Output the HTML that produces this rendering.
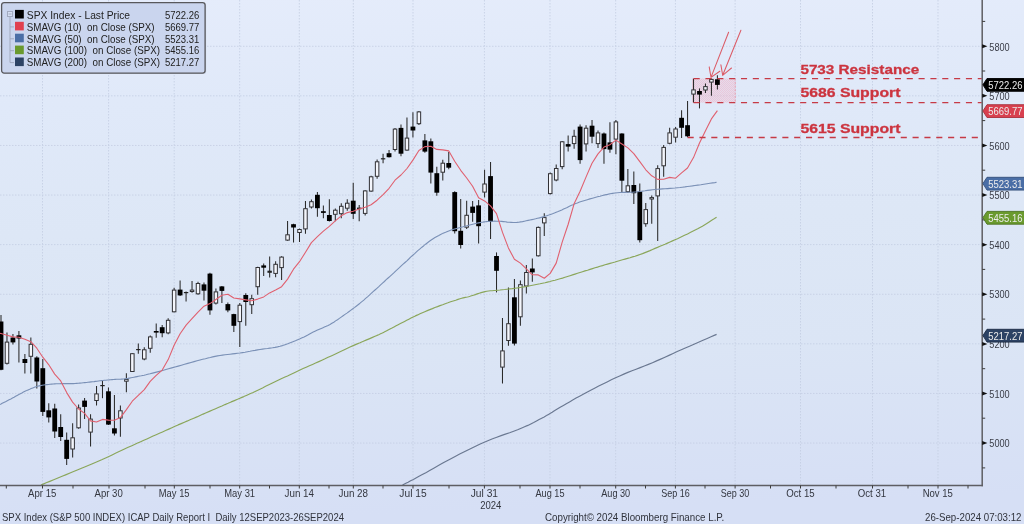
<!DOCTYPE html>
<html><head><meta charset="utf-8"><title>SPX Index</title>
<style>html,body{margin:0;padding:0;background:#dfe6f6;}body{width:1024px;height:524px;overflow:hidden;font-family:"Liberation Sans", sans-serif;}svg{display:block;position:absolute;left:0;top:0;filter:blur(0.38px);}text{font-family:"Liberation Sans", sans-serif;}</style></head><body>
<svg width="1024" height="524" viewBox="0 0 1024 524">
<defs><linearGradient id="bg" x1="0" y1="0" x2="0.06" y2="1"><stop offset="0" stop-color="#e5ecfb"/><stop offset="0.2" stop-color="#e0e9f9"/><stop offset="0.45" stop-color="#dde7f6"/><stop offset="0.7" stop-color="#dbe5f5"/><stop offset="1" stop-color="#d6dff5"/></linearGradient><pattern id="dots" width="2" height="2" patternUnits="userSpaceOnUse"><rect x="0" y="0" width="1" height="1" fill="#ee9db4"/><rect x="1" y="1" width="1" height="1" fill="#ee9db4"/></pattern></defs>
<rect x="0" y="0" width="1024" height="524" fill="url(#bg)"/>
<g stroke="#c3cde2" stroke-width="1" stroke-dasharray="1.5 1.5" fill="none" opacity="0.8">
<line x1="42.5" y1="0" x2="42.5" y2="485.5"/>
<line x1="108.6" y1="0" x2="108.6" y2="485.5"/>
<line x1="174.2" y1="0" x2="174.2" y2="485.5"/>
<line x1="239.7" y1="0" x2="239.7" y2="485.5"/>
<line x1="299.3" y1="0" x2="299.3" y2="485.5"/>
<line x1="353.3" y1="0" x2="353.3" y2="485.5"/>
<line x1="413.0" y1="0" x2="413.0" y2="485.5"/>
<line x1="484.4" y1="0" x2="484.4" y2="485.5"/>
<line x1="550.0" y1="0" x2="550.0" y2="485.5"/>
<line x1="615.7" y1="0" x2="615.7" y2="485.5"/>
<line x1="675.4" y1="0" x2="675.4" y2="485.5"/>
<line x1="735.1" y1="0" x2="735.1" y2="485.5"/>
<line x1="800.5" y1="0" x2="800.5" y2="485.5"/>
<line x1="872.5" y1="0" x2="872.5" y2="485.5"/>
<line x1="938.0" y1="0" x2="938.0" y2="485.5"/>
<line x1="0" y1="46.25" x2="982.2" y2="46.25"/>
<line x1="0" y1="95.85" x2="982.2" y2="95.85"/>
<line x1="0" y1="145.45" x2="982.2" y2="145.45"/>
<line x1="0" y1="195.05" x2="982.2" y2="195.05"/>
<line x1="0" y1="244.65" x2="982.2" y2="244.65"/>
<line x1="0" y1="294.25" x2="982.2" y2="294.25"/>
<line x1="0" y1="343.85" x2="982.2" y2="343.85"/>
<line x1="0" y1="393.45" x2="982.2" y2="393.45"/>
<line x1="0" y1="443.05" x2="982.2" y2="443.05"/>
</g>
<rect x="693.3" y="78.6" width="42" height="24" fill="#f3c3d2" opacity="0.36"/>
<rect x="693.3" y="78.6" width="42" height="24" fill="url(#dots)" opacity="0.3"/>
<line x1="693.3" y1="78.6" x2="693.3" y2="102.6" stroke="#e0707f" stroke-width="1.2"/>
<line x1="735.3" y1="78.6" x2="735.3" y2="102.6" stroke="#e9a3b4" stroke-width="1" stroke-dasharray="2 1.5"/>
<g stroke="#1c1c1c" stroke-width="1">
<line x1="1.00" y1="315.1" x2="1.00" y2="370.3" stroke="#2a2a2a" stroke-width="1.05"/>
<rect x="-1.40" y="321.5" width="4.8" height="48.3" fill="#000" stroke="none"/>
<line x1="6.97" y1="332.5" x2="6.97" y2="364.5" stroke="#2a2a2a" stroke-width="1.05"/>
<rect x="5.22" y="342.1" width="3.5" height="21.2" fill="#f4f6fc" stroke="#303034" stroke-width="1"/>
<line x1="12.94" y1="334.0" x2="12.94" y2="344.5" stroke="#2a2a2a" stroke-width="1.05"/>
<rect x="10.54" y="337.5" width="4.8" height="4.9" fill="#000" stroke="none"/>
<line x1="18.91" y1="331.0" x2="18.91" y2="362.5" stroke="#2a2a2a" stroke-width="1.05"/>
<rect x="16.51" y="335.3" width="4.8" height="3.2" fill="#000" stroke="none"/>
<line x1="24.88" y1="354.0" x2="24.88" y2="373.5" stroke="#2a2a2a" stroke-width="1.05"/>
<rect x="22.48" y="359.0" width="4.8" height="4.0" fill="#000" stroke="none"/>
<line x1="30.85" y1="337.5" x2="30.85" y2="373.5" stroke="#2a2a2a" stroke-width="1.05"/>
<rect x="29.10" y="344.3" width="3.5" height="12.0" fill="#f4f6fc" stroke="#303034" stroke-width="1"/>
<line x1="36.82" y1="356.3" x2="36.82" y2="388.5" stroke="#2a2a2a" stroke-width="1.05"/>
<rect x="34.42" y="357.5" width="4.8" height="24.0" fill="#000" stroke="none"/>
<line x1="42.79" y1="359.0" x2="42.79" y2="416.0" stroke="#2a2a2a" stroke-width="1.05"/>
<rect x="40.39" y="368.2" width="4.8" height="43.7" fill="#000" stroke="none"/>
<line x1="48.76" y1="403.3" x2="48.76" y2="422.5" stroke="#2a2a2a" stroke-width="1.05"/>
<rect x="46.36" y="410.3" width="4.8" height="7.1" fill="#000" stroke="none"/>
<line x1="54.73" y1="403.8" x2="54.73" y2="438.0" stroke="#2a2a2a" stroke-width="1.05"/>
<rect x="52.33" y="408.5" width="4.8" height="23.0" fill="#000" stroke="none"/>
<line x1="60.70" y1="414.3" x2="60.70" y2="441.0" stroke="#2a2a2a" stroke-width="1.05"/>
<rect x="58.30" y="427.0" width="4.8" height="10.0" fill="#000" stroke="none"/>
<line x1="66.67" y1="432.6" x2="66.67" y2="465.0" stroke="#2a2a2a" stroke-width="1.05"/>
<rect x="64.27" y="439.8" width="4.8" height="19.1" fill="#000" stroke="none"/>
<line x1="72.64" y1="423.2" x2="72.64" y2="457.6" stroke="#2a2a2a" stroke-width="1.05"/>
<rect x="70.89" y="437.8" width="3.5" height="11.2" fill="#f4f6fc" stroke="#303034" stroke-width="1"/>
<line x1="78.61" y1="404.4" x2="78.61" y2="428.8" stroke="#2a2a2a" stroke-width="1.05"/>
<rect x="76.86" y="408.0" width="3.5" height="19.8" fill="#f4f6fc" stroke="#303034" stroke-width="1"/>
<line x1="84.58" y1="398.0" x2="84.58" y2="419.0" stroke="#2a2a2a" stroke-width="1.05"/>
<rect x="82.18" y="400.6" width="4.8" height="6.3" fill="#000" stroke="none"/>
<line x1="90.55" y1="414.3" x2="90.55" y2="446.5" stroke="#2a2a2a" stroke-width="1.05"/>
<rect x="88.80" y="419.1" width="3.5" height="13.0" fill="#f4f6fc" stroke="#303034" stroke-width="1"/>
<line x1="96.52" y1="386.0" x2="96.52" y2="405.5" stroke="#2a2a2a" stroke-width="1.05"/>
<rect x="94.77" y="393.9" width="3.5" height="6.6" fill="#f4f6fc" stroke="#303034" stroke-width="1"/>
<line x1="102.49" y1="381.0" x2="102.49" y2="398.2" stroke="#2a2a2a" stroke-width="1.05"/>
<rect x="100.29" y="385.0" width="4.4" height="1.2" fill="#222" stroke="none"/>
<line x1="108.46" y1="387.6" x2="108.46" y2="425.0" stroke="#2a2a2a" stroke-width="1.05"/>
<rect x="106.06" y="391.3" width="4.8" height="33.3" fill="#000" stroke="none"/>
<line x1="114.43" y1="395.0" x2="114.43" y2="435.6" stroke="#2a2a2a" stroke-width="1.05"/>
<rect x="112.03" y="428.3" width="4.8" height="5.2" fill="#000" stroke="none"/>
<line x1="120.40" y1="405.6" x2="120.40" y2="436.8" stroke="#2a2a2a" stroke-width="1.05"/>
<rect x="118.65" y="410.8" width="3.5" height="7.2" fill="#f4f6fc" stroke="#303034" stroke-width="1"/>
<line x1="126.37" y1="373.2" x2="126.37" y2="392.2" stroke="#2a2a2a" stroke-width="1.05"/>
<rect x="124.62" y="379.4" width="3.5" height="1.8" fill="#f4f6fc" stroke="#303034" stroke-width="1"/>
<line x1="132.34" y1="353.2" x2="132.34" y2="372.0" stroke="#2a2a2a" stroke-width="1.05"/>
<rect x="130.59" y="353.7" width="3.5" height="17.8" fill="#f4f6fc" stroke="#303034" stroke-width="1"/>
<line x1="138.31" y1="343.4" x2="138.31" y2="353.8" stroke="#2a2a2a" stroke-width="1.05"/>
<rect x="136.11" y="349.0" width="4.4" height="1.2" fill="#222" stroke="none"/>
<line x1="144.28" y1="347.3" x2="144.28" y2="360.3" stroke="#2a2a2a" stroke-width="1.05"/>
<rect x="142.53" y="349.8" width="3.5" height="9.2" fill="#f4f6fc" stroke="#303034" stroke-width="1"/>
<line x1="150.25" y1="335.6" x2="150.25" y2="352.8" stroke="#2a2a2a" stroke-width="1.05"/>
<rect x="148.50" y="336.9" width="3.5" height="11.4" fill="#f4f6fc" stroke="#303034" stroke-width="1"/>
<line x1="156.22" y1="323.4" x2="156.22" y2="337.8" stroke="#2a2a2a" stroke-width="1.05"/>
<rect x="153.82" y="331.0" width="4.8" height="1.6" fill="#000" stroke="none"/>
<line x1="162.19" y1="324.9" x2="162.19" y2="337.2" stroke="#2a2a2a" stroke-width="1.05"/>
<rect x="159.79" y="327.2" width="4.8" height="6.0" fill="#000" stroke="none"/>
<line x1="168.16" y1="318.2" x2="168.16" y2="334.2" stroke="#2a2a2a" stroke-width="1.05"/>
<rect x="166.41" y="320.3" width="3.5" height="12.6" fill="#f4f6fc" stroke="#303034" stroke-width="1"/>
<line x1="174.13" y1="287.7" x2="174.13" y2="312.3" stroke="#2a2a2a" stroke-width="1.05"/>
<rect x="172.38" y="290.1" width="3.5" height="21.7" fill="#f4f6fc" stroke="#303034" stroke-width="1"/>
<line x1="180.10" y1="280.6" x2="180.10" y2="296.0" stroke="#2a2a2a" stroke-width="1.05"/>
<rect x="177.70" y="289.6" width="4.8" height="5.8" fill="#000" stroke="none"/>
<line x1="186.07" y1="291.5" x2="186.07" y2="301.5" stroke="#2a2a2a" stroke-width="1.05"/>
<rect x="183.87" y="292.0" width="4.4" height="1.2" fill="#222" stroke="none"/>
<line x1="192.04" y1="281.0" x2="192.04" y2="292.8" stroke="#2a2a2a" stroke-width="1.05"/>
<rect x="190.29" y="290.1" width="3.5" height="1.4" fill="#f4f6fc" stroke="#303034" stroke-width="1"/>
<line x1="198.01" y1="281.7" x2="198.01" y2="294.8" stroke="#2a2a2a" stroke-width="1.05"/>
<rect x="196.26" y="283.5" width="3.5" height="10.3" fill="#f4f6fc" stroke="#303034" stroke-width="1"/>
<line x1="203.98" y1="282.5" x2="203.98" y2="300.6" stroke="#2a2a2a" stroke-width="1.05"/>
<rect x="201.58" y="284.4" width="4.8" height="6.3" fill="#000" stroke="none"/>
<line x1="209.95" y1="272.8" x2="209.95" y2="314.8" stroke="#2a2a2a" stroke-width="1.05"/>
<rect x="207.55" y="273.6" width="4.8" height="36.8" fill="#000" stroke="none"/>
<line x1="215.92" y1="288.5" x2="215.92" y2="304.5" stroke="#2a2a2a" stroke-width="1.05"/>
<rect x="214.17" y="291.9" width="3.5" height="11.2" fill="#f4f6fc" stroke="#303034" stroke-width="1"/>
<line x1="221.89" y1="286.0" x2="221.89" y2="303.0" stroke="#2a2a2a" stroke-width="1.05"/>
<rect x="219.49" y="286.4" width="4.8" height="4.5" fill="#000" stroke="none"/>
<line x1="227.86" y1="302.6" x2="227.86" y2="312.2" stroke="#2a2a2a" stroke-width="1.05"/>
<rect x="225.46" y="304.1" width="4.8" height="6.3" fill="#000" stroke="none"/>
<line x1="233.83" y1="313.8" x2="233.83" y2="332.0" stroke="#2a2a2a" stroke-width="1.05"/>
<rect x="231.43" y="314.1" width="4.8" height="11.7" fill="#000" stroke="none"/>
<line x1="239.80" y1="302.9" x2="239.80" y2="346.9" stroke="#2a2a2a" stroke-width="1.05"/>
<rect x="238.05" y="305.2" width="3.5" height="16.4" fill="#f4f6fc" stroke="#303034" stroke-width="1"/>
<line x1="245.77" y1="293.2" x2="245.77" y2="325.8" stroke="#2a2a2a" stroke-width="1.05"/>
<rect x="243.37" y="295.0" width="4.8" height="7.0" fill="#000" stroke="none"/>
<line x1="251.74" y1="294.7" x2="251.74" y2="314.0" stroke="#2a2a2a" stroke-width="1.05"/>
<rect x="249.99" y="298.7" width="3.5" height="6.0" fill="#f4f6fc" stroke="#303034" stroke-width="1"/>
<line x1="257.71" y1="266.8" x2="257.71" y2="294.8" stroke="#2a2a2a" stroke-width="1.05"/>
<rect x="255.96" y="267.5" width="3.5" height="19.2" fill="#f4f6fc" stroke="#303034" stroke-width="1"/>
<line x1="263.68" y1="263.4" x2="263.68" y2="276.0" stroke="#2a2a2a" stroke-width="1.05"/>
<rect x="261.28" y="265.4" width="4.8" height="2.3" fill="#000" stroke="none"/>
<line x1="269.65" y1="256.6" x2="269.65" y2="277.6" stroke="#2a2a2a" stroke-width="1.05"/>
<rect x="267.45" y="270.7" width="4.4" height="2.1" fill="#222" stroke="none"/>
<line x1="275.62" y1="261.3" x2="275.62" y2="277.2" stroke="#2a2a2a" stroke-width="1.05"/>
<rect x="273.87" y="264.3" width="3.5" height="9.1" fill="#f4f6fc" stroke="#303034" stroke-width="1"/>
<line x1="281.59" y1="256.2" x2="281.59" y2="279.9" stroke="#2a2a2a" stroke-width="1.05"/>
<rect x="279.84" y="257.1" width="3.5" height="10.5" fill="#f4f6fc" stroke="#303034" stroke-width="1"/>
<line x1="287.56" y1="221.1" x2="287.56" y2="240.8" stroke="#2a2a2a" stroke-width="1.05"/>
<rect x="285.81" y="234.8" width="3.5" height="5.3" fill="#f4f6fc" stroke="#303034" stroke-width="1"/>
<line x1="293.53" y1="223.8" x2="293.53" y2="242.6" stroke="#2a2a2a" stroke-width="1.05"/>
<rect x="291.13" y="224.2" width="4.8" height="3.3" fill="#000" stroke="none"/>
<line x1="299.50" y1="228.6" x2="299.50" y2="242.0" stroke="#2a2a2a" stroke-width="1.05"/>
<rect x="297.75" y="229.5" width="3.5" height="3.0" fill="#f4f6fc" stroke="#303034" stroke-width="1"/>
<line x1="305.47" y1="201.0" x2="305.47" y2="233.7" stroke="#2a2a2a" stroke-width="1.05"/>
<rect x="303.72" y="208.7" width="3.5" height="20.2" fill="#f4f6fc" stroke="#303034" stroke-width="1"/>
<line x1="311.44" y1="199.5" x2="311.44" y2="208.6" stroke="#2a2a2a" stroke-width="1.05"/>
<rect x="309.69" y="201.7" width="3.5" height="5.3" fill="#f4f6fc" stroke="#303034" stroke-width="1"/>
<line x1="317.41" y1="192.0" x2="317.41" y2="216.7" stroke="#2a2a2a" stroke-width="1.05"/>
<rect x="315.01" y="194.8" width="4.8" height="13.4" fill="#000" stroke="none"/>
<line x1="323.38" y1="205.4" x2="323.38" y2="218.2" stroke="#2a2a2a" stroke-width="1.05"/>
<rect x="320.98" y="211.2" width="4.8" height="1.7" fill="#000" stroke="none"/>
<line x1="329.35" y1="199.3" x2="329.35" y2="221.4" stroke="#2a2a2a" stroke-width="1.05"/>
<rect x="326.95" y="215.0" width="4.8" height="6.0" fill="#000" stroke="none"/>
<line x1="335.32" y1="208.5" x2="335.32" y2="221.2" stroke="#2a2a2a" stroke-width="1.05"/>
<rect x="333.57" y="210.2" width="3.5" height="4.1" fill="#f4f6fc" stroke="#303034" stroke-width="1"/>
<line x1="341.29" y1="203.3" x2="341.29" y2="218.2" stroke="#2a2a2a" stroke-width="1.05"/>
<rect x="339.54" y="206.3" width="3.5" height="7.4" fill="#f4f6fc" stroke="#303034" stroke-width="1"/>
<line x1="347.26" y1="199.3" x2="347.26" y2="210.7" stroke="#2a2a2a" stroke-width="1.05"/>
<rect x="345.51" y="203.2" width="3.5" height="5.0" fill="#f4f6fc" stroke="#303034" stroke-width="1"/>
<line x1="353.23" y1="182.8" x2="353.23" y2="219.0" stroke="#2a2a2a" stroke-width="1.05"/>
<rect x="350.83" y="200.7" width="4.8" height="13.1" fill="#000" stroke="none"/>
<line x1="359.20" y1="205.0" x2="359.20" y2="221.3" stroke="#2a2a2a" stroke-width="1.05"/>
<rect x="357.00" y="207.6" width="4.4" height="1.6" fill="#222" stroke="none"/>
<line x1="365.17" y1="190.2" x2="365.17" y2="215.4" stroke="#2a2a2a" stroke-width="1.05"/>
<rect x="363.42" y="190.9" width="3.5" height="22.5" fill="#f4f6fc" stroke="#303034" stroke-width="1"/>
<line x1="371.14" y1="175.8" x2="371.14" y2="191.8" stroke="#2a2a2a" stroke-width="1.05"/>
<rect x="369.39" y="176.8" width="3.5" height="14.3" fill="#f4f6fc" stroke="#303034" stroke-width="1"/>
<line x1="377.11" y1="159.6" x2="377.11" y2="178.8" stroke="#2a2a2a" stroke-width="1.05"/>
<rect x="375.36" y="161.8" width="3.5" height="14.5" fill="#f4f6fc" stroke="#303034" stroke-width="1"/>
<line x1="383.08" y1="153.7" x2="383.08" y2="163.3" stroke="#2a2a2a" stroke-width="1.05"/>
<rect x="380.88" y="158.2" width="4.4" height="1.2" fill="#222" stroke="none"/>
<line x1="389.05" y1="150.0" x2="389.05" y2="157.6" stroke="#2a2a2a" stroke-width="1.05"/>
<rect x="386.65" y="153.2" width="4.8" height="4.0" fill="#000" stroke="none"/>
<line x1="395.02" y1="128.0" x2="395.02" y2="151.4" stroke="#2a2a2a" stroke-width="1.05"/>
<rect x="393.27" y="129.1" width="3.5" height="20.4" fill="#f4f6fc" stroke="#303034" stroke-width="1"/>
<line x1="400.99" y1="124.4" x2="400.99" y2="156.3" stroke="#2a2a2a" stroke-width="1.05"/>
<rect x="398.59" y="127.9" width="4.8" height="25.8" fill="#000" stroke="none"/>
<line x1="406.96" y1="117.4" x2="406.96" y2="150.8" stroke="#2a2a2a" stroke-width="1.05"/>
<rect x="405.21" y="138.1" width="3.5" height="12.0" fill="#f4f6fc" stroke="#303034" stroke-width="1"/>
<line x1="412.93" y1="112.2" x2="412.93" y2="137.6" stroke="#2a2a2a" stroke-width="1.05"/>
<rect x="410.53" y="126.6" width="4.8" height="3.9" fill="#000" stroke="none"/>
<line x1="418.90" y1="110.9" x2="418.90" y2="125.0" stroke="#2a2a2a" stroke-width="1.05"/>
<rect x="417.15" y="111.9" width="3.5" height="11.8" fill="#f4f6fc" stroke="#303034" stroke-width="1"/>
<line x1="424.87" y1="134.1" x2="424.87" y2="152.7" stroke="#2a2a2a" stroke-width="1.05"/>
<rect x="422.47" y="140.4" width="4.8" height="11.2" fill="#000" stroke="none"/>
<line x1="430.84" y1="138.5" x2="430.84" y2="183.5" stroke="#2a2a2a" stroke-width="1.05"/>
<rect x="428.44" y="141.3" width="4.8" height="31.3" fill="#000" stroke="none"/>
<line x1="436.81" y1="166.7" x2="436.81" y2="195.8" stroke="#2a2a2a" stroke-width="1.05"/>
<rect x="434.41" y="173.2" width="4.8" height="19.5" fill="#000" stroke="none"/>
<line x1="442.78" y1="159.8" x2="442.78" y2="180.4" stroke="#2a2a2a" stroke-width="1.05"/>
<rect x="441.03" y="163.2" width="3.5" height="9.0" fill="#f4f6fc" stroke="#303034" stroke-width="1"/>
<line x1="448.75" y1="152.1" x2="448.75" y2="169.2" stroke="#2a2a2a" stroke-width="1.05"/>
<rect x="446.35" y="163.0" width="4.8" height="4.7" fill="#000" stroke="none"/>
<line x1="454.72" y1="191.3" x2="454.72" y2="233.6" stroke="#2a2a2a" stroke-width="1.05"/>
<rect x="452.32" y="192.1" width="4.8" height="39.1" fill="#000" stroke="none"/>
<line x1="460.69" y1="199.1" x2="460.69" y2="248.5" stroke="#2a2a2a" stroke-width="1.05"/>
<rect x="458.29" y="230.8" width="4.8" height="14.2" fill="#000" stroke="none"/>
<line x1="466.66" y1="200.7" x2="466.66" y2="228.9" stroke="#2a2a2a" stroke-width="1.05"/>
<rect x="464.91" y="215.3" width="3.5" height="11.9" fill="#f4f6fc" stroke="#303034" stroke-width="1"/>
<line x1="472.63" y1="201.0" x2="472.63" y2="221.8" stroke="#2a2a2a" stroke-width="1.05"/>
<rect x="470.23" y="206.6" width="4.8" height="6.3" fill="#000" stroke="none"/>
<line x1="478.60" y1="199.9" x2="478.60" y2="243.5" stroke="#2a2a2a" stroke-width="1.05"/>
<rect x="476.20" y="205.4" width="4.8" height="20.8" fill="#000" stroke="none"/>
<line x1="484.57" y1="169.7" x2="484.57" y2="197.6" stroke="#2a2a2a" stroke-width="1.05"/>
<rect x="482.82" y="184.0" width="3.5" height="8.1" fill="#f4f6fc" stroke="#303034" stroke-width="1"/>
<line x1="490.54" y1="161.9" x2="490.54" y2="239.0" stroke="#2a2a2a" stroke-width="1.05"/>
<rect x="488.14" y="176.1" width="4.8" height="45.4" fill="#000" stroke="none"/>
<line x1="496.51" y1="252.4" x2="496.51" y2="292.4" stroke="#2a2a2a" stroke-width="1.05"/>
<rect x="494.11" y="256.0" width="4.8" height="14.8" fill="#000" stroke="none"/>
<line x1="502.48" y1="318.0" x2="502.48" y2="383.5" stroke="#2a2a2a" stroke-width="1.05"/>
<rect x="500.73" y="350.9" width="3.5" height="16.2" fill="#f4f6fc" stroke="#303034" stroke-width="1"/>
<line x1="508.45" y1="287.6" x2="508.45" y2="345.7" stroke="#2a2a2a" stroke-width="1.05"/>
<rect x="506.70" y="323.7" width="3.5" height="16.8" fill="#f4f6fc" stroke="#303034" stroke-width="1"/>
<line x1="514.42" y1="279.0" x2="514.42" y2="345.4" stroke="#2a2a2a" stroke-width="1.05"/>
<rect x="512.02" y="297.3" width="4.8" height="46.3" fill="#000" stroke="none"/>
<line x1="520.39" y1="280.6" x2="520.39" y2="325.8" stroke="#2a2a2a" stroke-width="1.05"/>
<rect x="518.64" y="284.7" width="3.5" height="32.1" fill="#f4f6fc" stroke="#303034" stroke-width="1"/>
<line x1="526.36" y1="264.9" x2="526.36" y2="293.4" stroke="#2a2a2a" stroke-width="1.05"/>
<rect x="524.61" y="272.5" width="3.5" height="13.5" fill="#f4f6fc" stroke="#303034" stroke-width="1"/>
<line x1="532.33" y1="258.6" x2="532.33" y2="281.7" stroke="#2a2a2a" stroke-width="1.05"/>
<rect x="529.93" y="268.5" width="4.8" height="3.9" fill="#000" stroke="none"/>
<line x1="538.30" y1="226.6" x2="538.30" y2="256.5" stroke="#2a2a2a" stroke-width="1.05"/>
<rect x="536.55" y="227.4" width="3.5" height="28.4" fill="#f4f6fc" stroke="#303034" stroke-width="1"/>
<line x1="544.27" y1="213.2" x2="544.27" y2="236.0" stroke="#2a2a2a" stroke-width="1.05"/>
<rect x="542.52" y="217.6" width="3.5" height="5.3" fill="#f4f6fc" stroke="#303034" stroke-width="1"/>
<line x1="550.24" y1="172.6" x2="550.24" y2="194.4" stroke="#2a2a2a" stroke-width="1.05"/>
<rect x="548.49" y="173.7" width="3.5" height="19.9" fill="#f4f6fc" stroke="#303034" stroke-width="1"/>
<line x1="556.21" y1="164.6" x2="556.21" y2="181.2" stroke="#2a2a2a" stroke-width="1.05"/>
<rect x="554.46" y="168.5" width="3.5" height="11.5" fill="#f4f6fc" stroke="#303034" stroke-width="1"/>
<line x1="562.18" y1="141.0" x2="562.18" y2="169.2" stroke="#2a2a2a" stroke-width="1.05"/>
<rect x="560.43" y="141.8" width="3.5" height="24.8" fill="#f4f6fc" stroke="#303034" stroke-width="1"/>
<line x1="568.15" y1="135.5" x2="568.15" y2="151.5" stroke="#2a2a2a" stroke-width="1.05"/>
<rect x="565.75" y="144.1" width="4.8" height="2.5" fill="#000" stroke="none"/>
<line x1="574.12" y1="129.7" x2="574.12" y2="148.8" stroke="#2a2a2a" stroke-width="1.05"/>
<rect x="572.37" y="136.3" width="3.5" height="7.3" fill="#f4f6fc" stroke="#303034" stroke-width="1"/>
<line x1="580.09" y1="124.6" x2="580.09" y2="163.7" stroke="#2a2a2a" stroke-width="1.05"/>
<rect x="577.69" y="126.6" width="4.8" height="33.5" fill="#000" stroke="none"/>
<line x1="586.06" y1="125.3" x2="586.06" y2="151.6" stroke="#2a2a2a" stroke-width="1.05"/>
<rect x="584.31" y="128.2" width="3.5" height="15.7" fill="#f4f6fc" stroke="#303034" stroke-width="1"/>
<line x1="592.03" y1="119.9" x2="592.03" y2="143.3" stroke="#2a2a2a" stroke-width="1.05"/>
<rect x="589.63" y="125.7" width="4.8" height="11.0" fill="#000" stroke="none"/>
<line x1="598.00" y1="130.4" x2="598.00" y2="148.0" stroke="#2a2a2a" stroke-width="1.05"/>
<rect x="596.25" y="132.9" width="3.5" height="10.7" fill="#f4f6fc" stroke="#303034" stroke-width="1"/>
<line x1="603.97" y1="132.4" x2="603.97" y2="163.7" stroke="#2a2a2a" stroke-width="1.05"/>
<rect x="601.57" y="133.5" width="4.8" height="15.6" fill="#000" stroke="none"/>
<line x1="609.94" y1="122.2" x2="609.94" y2="152.7" stroke="#2a2a2a" stroke-width="1.05"/>
<rect x="607.54" y="142.4" width="4.8" height="7.2" fill="#000" stroke="none"/>
<line x1="615.91" y1="119.9" x2="615.91" y2="154.3" stroke="#2a2a2a" stroke-width="1.05"/>
<rect x="614.16" y="121.9" width="3.5" height="17.2" fill="#f4f6fc" stroke="#303034" stroke-width="1"/>
<line x1="621.88" y1="133.2" x2="621.88" y2="192.4" stroke="#2a2a2a" stroke-width="1.05"/>
<rect x="619.48" y="133.5" width="4.8" height="47.2" fill="#000" stroke="none"/>
<line x1="627.85" y1="168.9" x2="627.85" y2="192.8" stroke="#2a2a2a" stroke-width="1.05"/>
<rect x="626.10" y="185.8" width="3.5" height="5.9" fill="#f4f6fc" stroke="#303034" stroke-width="1"/>
<line x1="633.82" y1="171.6" x2="633.82" y2="204.1" stroke="#2a2a2a" stroke-width="1.05"/>
<rect x="631.42" y="185.0" width="4.8" height="8.2" fill="#000" stroke="none"/>
<line x1="639.79" y1="183.5" x2="639.79" y2="242.6" stroke="#2a2a2a" stroke-width="1.05"/>
<rect x="637.39" y="191.6" width="4.8" height="48.6" fill="#000" stroke="none"/>
<line x1="645.76" y1="202.9" x2="645.76" y2="226.8" stroke="#2a2a2a" stroke-width="1.05"/>
<rect x="644.01" y="209.6" width="3.5" height="14.1" fill="#f4f6fc" stroke="#303034" stroke-width="1"/>
<line x1="651.73" y1="195.5" x2="651.73" y2="223.7" stroke="#2a2a2a" stroke-width="1.05"/>
<rect x="649.98" y="197.6" width="3.5" height="1.4" fill="#f4f6fc" stroke="#303034" stroke-width="1"/>
<line x1="657.70" y1="165.2" x2="657.70" y2="240.9" stroke="#2a2a2a" stroke-width="1.05"/>
<rect x="655.95" y="168.6" width="3.5" height="27.3" fill="#f4f6fc" stroke="#303034" stroke-width="1"/>
<line x1="663.67" y1="144.9" x2="663.67" y2="176.7" stroke="#2a2a2a" stroke-width="1.05"/>
<rect x="661.92" y="147.4" width="3.5" height="18.4" fill="#f4f6fc" stroke="#303034" stroke-width="1"/>
<line x1="669.64" y1="127.7" x2="669.64" y2="144.2" stroke="#2a2a2a" stroke-width="1.05"/>
<rect x="667.89" y="132.9" width="3.5" height="10.4" fill="#f4f6fc" stroke="#303034" stroke-width="1"/>
<line x1="675.61" y1="126.9" x2="675.61" y2="142.6" stroke="#2a2a2a" stroke-width="1.05"/>
<rect x="673.86" y="129.0" width="3.5" height="8.2" fill="#f4f6fc" stroke="#303034" stroke-width="1"/>
<line x1="681.58" y1="110.3" x2="681.58" y2="137.9" stroke="#2a2a2a" stroke-width="1.05"/>
<rect x="679.18" y="117.8" width="4.8" height="10.0" fill="#000" stroke="none"/>
<line x1="687.55" y1="101.1" x2="687.55" y2="137.2" stroke="#2a2a2a" stroke-width="1.05"/>
<rect x="685.15" y="125.2" width="4.8" height="11.1" fill="#000" stroke="none"/>
<line x1="693.52" y1="78.8" x2="693.52" y2="102.5" stroke="#2a2a2a" stroke-width="1.05"/>
<rect x="691.77" y="89.9" width="3.5" height="4.2" fill="#f4f6fc" stroke="#303034" stroke-width="1"/>
<line x1="699.49" y1="88.4" x2="699.49" y2="108.4" stroke="#2a2a2a" stroke-width="1.05"/>
<rect x="697.09" y="91.0" width="4.8" height="3.6" fill="#000" stroke="none"/>
<line x1="705.46" y1="83.5" x2="705.46" y2="93.1" stroke="#2a2a2a" stroke-width="1.05"/>
<rect x="703.71" y="86.6" width="3.5" height="3.4" fill="#f4f6fc" stroke="#303034" stroke-width="1"/>
<line x1="711.43" y1="78.6" x2="711.43" y2="95.7" stroke="#2a2a2a" stroke-width="1.05"/>
<rect x="709.68" y="79.4" width="3.5" height="2.7" fill="#f4f6fc" stroke="#303034" stroke-width="1"/>
<line x1="717.40" y1="75.3" x2="717.40" y2="89.6" stroke="#2a2a2a" stroke-width="1.05"/>
<rect x="715.00" y="79.3" width="4.8" height="5.6" fill="#000" stroke="none"/>
</g>
<polyline points="0.0,404.5 1.0,404.0 2.2,403.3 3.8,402.5 5.5,401.7 7.3,400.7 9.1,399.8 10.9,398.9 12.5,398.0 14.1,397.2 15.6,396.3 17.2,395.4 18.8,394.6 20.3,393.7 21.9,392.9 23.4,392.1 25.0,391.3 26.6,390.6 28.1,389.9 29.7,389.2 31.2,388.5 32.8,387.9 34.4,387.3 35.9,386.8 37.5,386.3 39.1,385.9 40.6,385.6 42.2,385.3 43.7,385.0 45.3,384.8 46.9,384.6 48.4,384.5 50.0,384.3 51.6,384.1 53.1,384.0 54.7,383.9 56.3,383.8 57.9,383.8 59.5,383.7 61.0,383.6 62.6,383.6 64.2,383.6 65.7,383.6 67.2,383.6 68.8,383.6 70.3,383.6 71.9,383.6 73.4,383.6 75.0,383.5 76.6,383.4 78.2,383.3 79.9,383.1 81.5,383.0 83.2,382.8 84.8,382.6 86.4,382.5 88.0,382.3 89.5,382.1 91.1,381.9 92.6,381.7 94.1,381.6 95.5,381.4 97.0,381.2 98.5,381.0 100.0,380.8 101.5,380.6 103.0,380.5 104.5,380.3 105.9,380.2 107.4,380.0 108.9,379.9 110.5,379.7 112.0,379.6 113.6,379.5 115.2,379.4 116.8,379.3 118.5,379.3 120.2,379.2 121.8,379.1 123.4,379.0 125.0,378.8 126.5,378.6 128.0,378.4 129.5,378.1 131.0,377.8 132.5,377.5 134.0,377.2 135.5,376.9 137.0,376.6 138.5,376.3 139.9,376.0 141.3,375.8 142.7,375.5 144.2,375.2 145.9,374.8 147.8,374.3 150.0,373.8 152.6,373.1 155.4,372.4 158.5,371.6 161.8,370.7 165.1,369.7 168.5,368.8 171.8,367.9 175.0,367.0 178.2,366.1 181.4,365.2 184.6,364.3 187.8,363.4 191.0,362.5 194.1,361.6 197.1,360.8 200.0,360.0 202.7,359.3 205.4,358.7 207.9,358.0 210.3,357.5 212.7,356.9 215.1,356.4 217.5,355.9 220.0,355.5 222.5,355.1 225.0,354.8 227.5,354.5 230.0,354.2 232.5,353.9 235.0,353.6 237.5,353.3 240.0,353.0 242.5,352.6 245.0,352.2 247.5,351.7 250.0,351.3 252.5,350.8 255.0,350.4 257.5,349.9 260.0,349.5 262.5,349.1 265.0,348.8 267.5,348.5 270.0,348.1 272.5,347.8 275.0,347.4 277.5,346.9 280.0,346.3 282.5,345.6 285.1,344.7 287.7,343.8 290.3,342.8 292.9,341.8 295.4,340.8 297.7,339.8 300.0,338.8 302.1,337.8 304.1,336.9 306.0,335.9 307.8,335.0 309.6,334.0 311.4,333.0 313.2,332.1 315.0,331.2 316.9,330.3 318.8,329.5 320.6,328.7 322.5,327.9 324.4,327.1 326.2,326.3 328.1,325.4 330.0,324.4 331.9,323.3 333.8,322.2 335.6,320.9 337.5,319.7 339.4,318.4 341.2,317.1 343.1,315.7 345.0,314.4 346.9,313.1 348.8,311.7 350.6,310.4 352.5,309.0 354.4,307.6 356.2,306.2 358.1,304.7 360.0,303.2 361.9,301.6 363.8,300.1 365.6,298.4 367.5,296.8 369.4,295.1 371.2,293.4 373.1,291.7 375.0,290.0 376.9,288.3 378.8,286.6 380.6,284.9 382.5,283.2 384.4,281.5 386.2,279.7 388.1,278.0 390.0,276.3 391.9,274.6 393.8,272.9 395.6,271.1 397.5,269.4 399.4,267.7 401.2,265.9 403.1,264.2 405.0,262.5 406.9,260.8 408.8,259.0 410.6,257.2 412.5,255.5 414.4,253.8 416.2,252.1 418.1,250.4 420.0,248.8 421.9,247.2 423.8,245.7 425.6,244.2 427.5,242.7 429.4,241.3 431.2,240.0 433.1,238.7 435.0,237.5 436.9,236.4 438.8,235.4 440.6,234.4 442.5,233.6 444.4,232.7 446.2,232.0 448.1,231.2 450.0,230.5 451.9,229.8 453.8,229.2 455.6,228.7 457.5,228.2 459.4,227.7 461.2,227.2 463.1,226.8 465.0,226.3 466.9,225.8 468.9,225.3 470.8,224.8 472.8,224.3 474.7,223.8 476.6,223.3 478.4,222.9 480.0,222.6 481.5,222.3 482.9,222.1 484.1,221.9 485.3,221.7 486.5,221.6 487.6,221.5 488.8,221.4 490.0,221.3 491.2,221.2 492.4,221.2 493.5,221.2 494.7,221.1 495.9,221.2 497.1,221.2 498.5,221.2 500.0,221.3 501.6,221.4 503.4,221.6 505.3,221.8 507.2,222.1 509.2,222.3 511.1,222.4 513.1,222.5 515.0,222.5 516.9,222.4 518.8,222.2 520.6,221.9 522.5,221.6 524.4,221.2 526.2,220.8 528.1,220.4 530.0,220.0 531.9,219.6 533.8,219.2 535.6,218.8 537.5,218.3 539.4,217.9 541.2,217.4 543.1,216.9 545.0,216.3 546.9,215.7 548.8,215.1 550.6,214.4 552.5,213.8 554.4,213.1 556.2,212.3 558.1,211.6 560.0,210.8 561.8,210.0 563.6,209.1 565.4,208.3 567.2,207.4 569.0,206.4 570.9,205.5 572.9,204.7 575.0,203.8 577.3,203.0 579.6,202.1 582.1,201.3 584.7,200.5 587.3,199.7 589.9,198.9 592.5,198.2 595.0,197.5 597.5,196.8 600.0,196.2 602.5,195.5 605.0,194.9 607.5,194.4 610.0,193.8 612.5,193.4 615.0,193.0 617.5,192.7 620.0,192.5 622.5,192.4 625.0,192.4 627.5,192.3 630.0,192.3 632.5,192.2 635.0,192.0 637.5,191.8 640.0,191.5 642.5,191.1 645.0,190.8 647.5,190.4 650.0,190.1 652.5,189.8 655.0,189.5 657.5,189.3 660.0,189.1 662.5,188.9 665.0,188.8 667.5,188.6 670.0,188.4 672.5,188.2 675.0,188.0 677.5,187.7 680.0,187.5 682.4,187.2 684.9,186.9 687.4,186.5 689.9,186.2 692.4,185.9 695.0,185.5 697.8,185.1 700.8,184.7 703.9,184.2 707.0,183.7 710.0,183.3 712.7,182.9 714.9,182.6 716.6,182.3" fill="none" stroke="#7a90b6" stroke-width="1.1" stroke-linejoin="round"/>
<polyline points="41.0,485.0 43.2,484.1 46.2,482.8 49.8,481.4 53.7,479.8 57.9,478.0 62.1,476.3 66.2,474.6 70.0,473.0 73.6,471.5 77.3,470.0 80.9,468.5 84.6,467.0 88.2,465.5 91.8,464.0 95.3,462.5 98.8,461.0 102.2,459.5 105.6,457.9 108.9,456.4 112.1,454.9 115.4,453.3 118.6,451.8 121.8,450.3 125.0,448.8 128.2,447.3 131.3,445.9 134.5,444.5 137.6,443.1 140.7,441.7 143.8,440.3 146.9,438.9 150.0,437.5 153.1,436.1 156.2,434.7 159.4,433.3 162.5,431.9 165.6,430.5 168.8,429.1 171.9,427.7 175.0,426.3 178.1,424.9 181.2,423.6 184.4,422.2 187.5,420.9 190.6,419.5 193.8,418.2 196.9,416.9 200.0,415.5 203.1,414.1 206.2,412.8 209.4,411.4 212.5,410.0 215.6,408.7 218.8,407.3 221.9,406.0 225.0,404.6 228.1,403.3 231.2,401.9 234.4,400.6 237.5,399.3 240.6,397.9 243.8,396.6 246.9,395.2 250.0,393.8 253.1,392.4 256.2,390.9 259.4,389.4 262.5,387.9 265.6,386.3 268.8,384.8 271.9,383.3 275.0,381.8 278.1,380.3 281.2,378.8 284.4,377.3 287.5,375.9 290.6,374.4 293.8,372.9 296.9,371.4 300.0,370.0 303.1,368.6 306.2,367.2 309.4,365.8 312.5,364.4 315.6,363.0 318.8,361.6 321.9,360.2 325.0,358.8 328.1,357.3 331.2,355.9 334.4,354.4 337.5,352.9 340.6,351.4 343.8,349.9 346.9,348.4 350.0,347.0 353.2,345.6 356.6,344.1 360.0,342.7 363.4,341.2 366.6,339.9 369.7,338.6 372.5,337.4 375.0,336.3 377.0,335.4 378.7,334.7 380.0,334.1 381.2,333.5 382.3,333.0 383.5,332.4 384.7,331.8 386.3,331.0 388.1,330.1 390.0,329.1 392.0,328.1 394.0,327.0 396.1,325.8 398.2,324.7 400.4,323.6 402.5,322.5 404.6,321.4 406.7,320.3 408.9,319.2 411.0,318.1 413.2,317.0 415.4,315.9 417.7,314.9 420.0,313.8 422.4,312.7 424.8,311.7 427.3,310.6 429.8,309.6 432.4,308.6 434.9,307.5 437.5,306.6 440.0,305.6 442.6,304.7 445.2,303.7 447.9,302.8 450.6,301.8 453.2,301.0 455.7,300.2 458.0,299.4 460.0,298.8 461.7,298.3 463.1,297.9 464.3,297.6 465.3,297.4 466.3,297.2 467.4,297.0 468.6,296.7 470.0,296.3 471.6,295.8 473.4,295.2 475.3,294.6 477.2,293.9 479.2,293.2 481.1,292.6 483.1,292.1 485.0,291.6 486.8,291.3 488.6,291.0 490.4,290.8 492.2,290.7 494.0,290.5 495.9,290.4 497.9,290.2 500.0,290.0 502.3,289.7 504.6,289.5 507.1,289.2 509.7,288.9 512.3,288.6 514.9,288.2 517.5,287.9 520.0,287.5 522.5,287.1 525.0,286.7 527.5,286.3 530.0,285.8 532.5,285.3 535.0,284.8 537.5,284.3 540.0,283.8 542.5,283.2 545.0,282.7 547.5,282.1 550.0,281.5 552.5,280.8 555.0,280.2 557.5,279.5 560.0,278.8 562.5,278.1 565.0,277.3 567.5,276.5 570.0,275.7 572.5,274.9 575.0,274.1 577.5,273.3 580.0,272.5 582.5,271.7 585.0,270.9 587.5,270.2 590.0,269.4 592.5,268.6 595.0,267.8 597.5,267.1 600.0,266.3 602.5,265.6 605.0,264.8 607.5,264.1 610.0,263.4 612.5,262.7 615.0,262.0 617.5,261.2 620.0,260.5 622.5,259.8 625.0,259.1 627.5,258.4 630.0,257.7 632.5,256.9 635.0,256.2 637.5,255.4 640.0,254.5 642.5,253.6 645.0,252.6 647.5,251.6 650.0,250.6 652.5,249.5 655.0,248.4 657.5,247.4 660.0,246.3 662.5,245.2 665.0,244.2 667.5,243.1 670.0,242.0 672.5,240.9 675.0,239.8 677.5,238.7 680.0,237.5 682.5,236.3 685.1,235.1 687.6,233.9 690.2,232.6 692.7,231.3 695.2,230.0 697.7,228.8 700.0,227.5 702.4,226.2 704.8,224.7 707.2,223.2 709.5,221.7 711.7,220.3 713.7,219.1 715.3,218.0 716.6,217.2" fill="none" stroke="#8aa65a" stroke-width="1.15" stroke-linejoin="round"/>
<polyline points="402.5,485.1 404.0,484.3 405.9,483.3 408.1,482.2 410.6,480.8 413.4,479.4 416.4,477.8 419.5,476.1 422.8,474.3 426.3,472.4 430.1,470.2 434.2,467.9 438.4,465.6 442.8,463.1 447.1,460.7 451.4,458.4 455.6,456.2 459.7,454.1 463.8,452.0 467.9,450.0 472.0,448.0 476.1,446.0 480.2,444.1 484.3,442.3 488.4,440.5 492.6,438.8 496.8,437.2 501.1,435.6 505.4,434.1 509.6,432.7 513.7,431.2 517.6,429.8 521.2,428.3 524.6,426.8 527.8,425.4 530.8,423.9 533.7,422.5 536.5,421.0 539.1,419.6 541.7,418.2 544.2,416.9 546.5,415.6 548.5,414.4 550.4,413.3 552.2,412.2 554.0,411.0 556.0,409.8 558.1,408.5 560.6,407.0 563.4,405.4 566.3,403.7 569.5,401.9 572.7,400.1 576.1,398.1 579.6,396.2 583.2,394.3 586.9,392.3 590.7,390.3 594.6,388.2 598.7,386.1 602.9,384.0 607.1,381.9 611.3,379.8 615.6,377.8 619.7,375.9 623.8,374.1 627.9,372.4 632.0,370.8 636.1,369.2 640.2,367.6 644.3,366.0 648.4,364.4 652.5,362.7 656.6,360.9 660.7,359.1 664.9,357.2 669.0,355.4 673.1,353.5 677.2,351.6 681.3,349.8 685.3,348.0 689.5,346.2 694.0,344.2 698.5,342.2 703.0,340.3 707.2,338.5 711.0,336.8 714.2,335.4 716.6,334.4" fill="none" stroke="#6a7891" stroke-width="1.15" stroke-linejoin="round"/>
<polyline points="0.0,333.4 1.0,333.5 7.0,335.3 12.9,336.9 18.9,337.2 24.9,339.3 30.8,341.7 36.8,348.2 42.8,357.2 48.8,364.8 54.7,374.1 60.7,380.9 66.7,392.6 72.6,402.1 78.6,409.0 84.6,413.4 90.5,420.9 96.5,422.0 102.5,419.4 108.5,420.1 114.4,420.3 120.4,417.6 126.4,409.6 132.3,401.2 138.3,395.3 144.3,389.6 150.2,381.4 156.2,375.3 162.2,370.1 168.2,359.6 174.1,345.2 180.1,333.7 186.1,325.1 192.0,318.7 198.0,312.1 204.0,306.2 209.9,303.6 215.9,299.5 221.9,295.3 227.9,294.3 233.8,298.0 239.8,298.9 245.8,299.9 251.7,300.8 257.7,299.1 263.7,296.9 269.6,292.9 275.6,290.1 281.6,286.7 287.6,279.1 293.5,269.2 299.5,261.7 305.5,252.3 311.4,242.6 317.4,236.7 323.4,231.2 329.3,226.3 335.3,220.9 341.3,215.8 347.3,212.6 353.2,211.2 359.2,209.1 365.2,207.3 371.1,204.8 377.1,200.2 383.1,194.7 389.1,188.3 395.0,180.2 401.0,175.0 407.0,168.5 412.9,160.1 418.9,150.5 424.9,146.6 430.8,146.3 436.8,149.4 442.8,149.9 448.8,150.9 454.7,161.2 460.7,170.3 466.7,178.0 472.6,186.3 478.6,197.7 484.6,200.9 490.5,205.8 496.5,213.6 502.5,232.4 508.4,247.9 514.4,259.2 520.4,263.1 526.4,268.8 532.3,274.8 538.3,274.9 544.3,278.2 550.2,273.4 556.2,263.1 562.2,242.2 568.1,224.5 574.1,203.8 580.1,191.3 586.1,176.9 592.0,163.3 598.0,153.9 604.0,147.1 609.9,144.7 615.9,140.1 621.9,144.0 627.9,147.9 633.8,153.6 639.8,161.6 645.8,169.8 651.7,175.8 657.7,179.4 663.7,179.2 669.6,177.4 675.6,178.2 681.6,172.9 687.5,168.0 693.5,157.6 699.5,143.0 705.5,130.7 711.4,118.9 717.4,110.6" fill="none" stroke="#e0606f" stroke-width="1.1" stroke-linejoin="round"/>
<g stroke="#c63a46" stroke-width="1.45" stroke-dasharray="6.1 5.74" fill="none">
<line x1="693.6" y1="78.6" x2="981.7" y2="78.6"/>
<line x1="693.6" y1="102.6" x2="981.7" y2="102.6"/>
<line x1="687.6" y1="137.4" x2="981.7" y2="137.4"/>
</g>
<g stroke="#db5c67" stroke-width="1.05" fill="none" stroke-linecap="round">
<path d="M728.6 32.3 L711 77.4 M709.2 66.9 L711 77.4 L719.8 71.3"/>
<path d="M740.9 30.3 L722.7 75.3 M720.9 64.8 L722.7 75.3 L731.5 68"/>
</g>
<g fill="#cc343f" stroke="#cc343f" stroke-width="0.3" font-weight="bold" font-size="13.4px">
<text x="800.4" y="73.9" textLength="118.8" lengthAdjust="spacingAndGlyphs">5733 Resistance</text>
<text x="800.4" y="97.3" textLength="100.1" lengthAdjust="spacingAndGlyphs">5686 Support</text>
<text x="800.4" y="132.7" textLength="100.1" lengthAdjust="spacingAndGlyphs">5615 Support</text>
</g>
<line x1="982.2" y1="0" x2="982.2" y2="486.3" stroke="#5e5e63" stroke-width="1.5"/>
<line x1="0" y1="485.5" x2="983.0" y2="485.5" stroke="#5e5e63" stroke-width="1.5"/>
<g stroke="#3c3c3c" stroke-width="1">
<line x1="6.3" y1="485.5" x2="6.3" y2="488.5"/>
<line x1="42.5" y1="485.5" x2="42.5" y2="488.5"/>
<line x1="73.0" y1="485.5" x2="73.0" y2="488.5"/>
<line x1="109.0" y1="485.5" x2="109.0" y2="488.5"/>
<line x1="145.0" y1="485.5" x2="145.0" y2="488.5"/>
<line x1="174.3" y1="485.5" x2="174.3" y2="488.5"/>
<line x1="210.0" y1="485.5" x2="210.0" y2="488.5"/>
<line x1="239.7" y1="485.5" x2="239.7" y2="488.5"/>
<line x1="269.5" y1="485.5" x2="269.5" y2="488.5"/>
<line x1="299.3" y1="485.5" x2="299.3" y2="488.5"/>
<line x1="329.0" y1="485.5" x2="329.0" y2="488.5"/>
<line x1="353.3" y1="485.5" x2="353.3" y2="488.5"/>
<line x1="383.0" y1="485.5" x2="383.0" y2="488.5"/>
<line x1="413.0" y1="485.5" x2="413.0" y2="488.5"/>
<line x1="449.0" y1="485.5" x2="449.0" y2="488.5"/>
<line x1="484.4" y1="485.5" x2="484.4" y2="488.5"/>
<line x1="520.0" y1="485.5" x2="520.0" y2="488.5"/>
<line x1="550.0" y1="485.5" x2="550.0" y2="488.5"/>
<line x1="580.0" y1="485.5" x2="580.0" y2="488.5"/>
<line x1="615.7" y1="485.5" x2="615.7" y2="488.5"/>
<line x1="645.5" y1="485.5" x2="645.5" y2="488.5"/>
<line x1="675.4" y1="485.5" x2="675.4" y2="488.5"/>
<line x1="705.0" y1="485.5" x2="705.0" y2="488.5"/>
<line x1="735.1" y1="485.5" x2="735.1" y2="488.5"/>
<line x1="770.5" y1="485.5" x2="770.5" y2="488.5"/>
<line x1="800.5" y1="485.5" x2="800.5" y2="488.5"/>
<line x1="836.0" y1="485.5" x2="836.0" y2="488.5"/>
<line x1="872.5" y1="485.5" x2="872.5" y2="488.5"/>
<line x1="908.0" y1="485.5" x2="908.0" y2="488.5"/>
<line x1="938.0" y1="485.5" x2="938.0" y2="488.5"/>
<line x1="968.0" y1="485.5" x2="968.0" y2="488.5"/>
</g>
<g fill="#33363f" font-size="10.2px" text-anchor="middle">
<text x="42.2" y="497" textLength="28.2" lengthAdjust="spacingAndGlyphs">Apr 15</text>
<text x="108.6" y="497" textLength="28.2" lengthAdjust="spacingAndGlyphs">Apr 30</text>
<text x="174.2" y="497" textLength="30.8" lengthAdjust="spacingAndGlyphs">May 15</text>
<text x="239.7" y="497" textLength="30.8" lengthAdjust="spacingAndGlyphs">May 31</text>
<text x="299.3" y="497" textLength="29.5" lengthAdjust="spacingAndGlyphs">Jun 14</text>
<text x="353.3" y="497" textLength="29.5" lengthAdjust="spacingAndGlyphs">Jun 28</text>
<text x="413.0" y="497" textLength="27.3" lengthAdjust="spacingAndGlyphs">Jul 15</text>
<text x="484.4" y="497" textLength="27.3" lengthAdjust="spacingAndGlyphs">Jul 31</text>
<text x="550.0" y="497" textLength="29.0" lengthAdjust="spacingAndGlyphs">Aug 15</text>
<text x="615.7" y="497" textLength="29.0" lengthAdjust="spacingAndGlyphs">Aug 30</text>
<text x="675.4" y="497" textLength="28.5" lengthAdjust="spacingAndGlyphs">Sep 16</text>
<text x="735.1" y="497" textLength="28.5" lengthAdjust="spacingAndGlyphs">Sep 30</text>
<text x="800.5" y="497" textLength="28.4" lengthAdjust="spacingAndGlyphs">Oct 15</text>
<text x="872.0" y="497" textLength="28.4" lengthAdjust="spacingAndGlyphs">Oct 31</text>
<text x="937.8" y="497" textLength="30.2" lengthAdjust="spacingAndGlyphs">Nov 15</text>
<text x="490.8" y="508.6" textLength="21.2" lengthAdjust="spacingAndGlyphs">2024</text>
</g>
<g fill="#3a3d47" font-size="10.2px">
<path d="M982.2 44.2 L987.4 46.2 L982.2 48.2 Z" fill="#111"/>
<text x="989.3" y="50.5" textLength="20.4" lengthAdjust="spacingAndGlyphs">5800</text>
<path d="M982.2 93.8 L987.4 95.8 L982.2 97.8 Z" fill="#111"/>
<text x="989.3" y="100.0" textLength="20.4" lengthAdjust="spacingAndGlyphs">5700</text>
<path d="M982.2 143.4 L987.4 145.4 L982.2 147.4 Z" fill="#111"/>
<text x="989.3" y="149.6" textLength="20.4" lengthAdjust="spacingAndGlyphs">5600</text>
<path d="M982.2 193.1 L987.4 195.1 L982.2 197.1 Z" fill="#111"/>
<text x="989.3" y="199.2" textLength="20.4" lengthAdjust="spacingAndGlyphs">5500</text>
<path d="M982.2 242.7 L987.4 244.7 L982.2 246.7 Z" fill="#111"/>
<text x="989.3" y="248.8" textLength="20.4" lengthAdjust="spacingAndGlyphs">5400</text>
<path d="M982.2 292.2 L987.4 294.2 L982.2 296.2 Z" fill="#111"/>
<text x="989.3" y="298.4" textLength="20.4" lengthAdjust="spacingAndGlyphs">5300</text>
<path d="M982.2 341.9 L987.4 343.9 L982.2 345.9 Z" fill="#111"/>
<text x="989.3" y="348.1" textLength="20.4" lengthAdjust="spacingAndGlyphs">5200</text>
<path d="M982.2 391.4 L987.4 393.4 L982.2 395.4 Z" fill="#111"/>
<text x="989.3" y="397.6" textLength="20.4" lengthAdjust="spacingAndGlyphs">5100</text>
<path d="M982.2 441.1 L987.4 443.1 L982.2 445.1 Z" fill="#111"/>
<text x="989.3" y="447.2" textLength="20.4" lengthAdjust="spacingAndGlyphs">5000</text>
<line x1="982.2" y1="21.4" x2="985.2" y2="21.4" stroke="#3c3c3c" stroke-width="1"/>
<line x1="982.2" y1="71.0" x2="985.2" y2="71.0" stroke="#3c3c3c" stroke-width="1"/>
<line x1="982.2" y1="120.6" x2="985.2" y2="120.6" stroke="#3c3c3c" stroke-width="1"/>
<line x1="982.2" y1="170.2" x2="985.2" y2="170.2" stroke="#3c3c3c" stroke-width="1"/>
<line x1="982.2" y1="219.9" x2="985.2" y2="219.9" stroke="#3c3c3c" stroke-width="1"/>
<line x1="982.2" y1="269.4" x2="985.2" y2="269.4" stroke="#3c3c3c" stroke-width="1"/>
<line x1="982.2" y1="319.1" x2="985.2" y2="319.1" stroke="#3c3c3c" stroke-width="1"/>
<line x1="982.2" y1="368.7" x2="985.2" y2="368.7" stroke="#3c3c3c" stroke-width="1"/>
<line x1="982.2" y1="418.2" x2="985.2" y2="418.2" stroke="#3c3c3c" stroke-width="1"/>
<line x1="982.2" y1="467.9" x2="985.2" y2="467.9" stroke="#3c3c3c" stroke-width="1"/>
</g>
<path d="M982.9 84.8 L987.0 78.5 L1025 78.5 L1025 91.3 L987.0 91.3 Z" fill="#000" stroke="#000" stroke-width="0.9" stroke-linejoin="round"/>
<text x="988.3" y="88.7" font-size="10.2px" fill="#ececec" textLength="34.2" lengthAdjust="spacingAndGlyphs">5722.26</text>
<path d="M982.9 111.0 L987.0 104.7 L1025 104.7 L1025 117.5 L987.0 117.5 Z" fill="#d8404f" stroke="#a8313c" stroke-width="0.9" stroke-linejoin="round"/>
<text x="988.3" y="114.9" font-size="10.2px" fill="#ececec" textLength="34.2" lengthAdjust="spacingAndGlyphs">5669.77</text>
<path d="M982.9 183.6 L987.0 177.3 L1025 177.3 L1025 190.1 L987.0 190.1 Z" fill="#4a6ea6" stroke="#34507c" stroke-width="0.9" stroke-linejoin="round"/>
<text x="988.3" y="187.5" font-size="10.2px" fill="#ececec" textLength="34.2" lengthAdjust="spacingAndGlyphs">5523.31</text>
<path d="M982.9 217.7 L987.0 211.4 L1025 211.4 L1025 224.2 L987.0 224.2 Z" fill="#6a9a2e" stroke="#4c7220" stroke-width="0.9" stroke-linejoin="round"/>
<text x="988.3" y="221.6" font-size="10.2px" fill="#ececec" textLength="34.2" lengthAdjust="spacingAndGlyphs">5455.16</text>
<path d="M982.9 335.6 L987.0 329.3 L1025 329.3 L1025 342.1 L987.0 342.1 Z" fill="#2c4264" stroke="#1c2b44" stroke-width="0.9" stroke-linejoin="round"/>
<text x="988.3" y="339.5" font-size="10.2px" fill="#ececec" textLength="34.2" lengthAdjust="spacingAndGlyphs">5217.27</text>
<rect x="2.6" y="3.6" width="203.5" height="70.5" rx="2.5" fill="#aeb6c9" opacity="0.5"/>
<rect x="1.6" y="2.6" width="203.5" height="70.5" rx="2.5" fill="#cad5ee" stroke="#58585c" stroke-width="1.3"/>
<g stroke="#a2aabf" stroke-width="1" fill="none"><rect x="7.5" y="11.5" width="5" height="5" fill="#d6dff3"/><line x1="8.5" y1="14" x2="11.5" y2="14"/><line x1="10" y1="16.5" x2="10" y2="62.5"/>
<line x1="10" y1="26.9" x2="14" y2="26.9"/>
<line x1="10" y1="38.8" x2="14" y2="38.8"/>
<line x1="10" y1="50.7" x2="14" y2="50.7"/>
<line x1="10" y1="62.6" x2="14" y2="62.6"/>
</g>
<g font-size="10.2px" fill="#222">
<rect x="15" y="9.9" width="8.8" height="8.6" fill="#000"/>
<text x="26.8" y="18.7" textLength="103.3" lengthAdjust="spacingAndGlyphs" xml:space="preserve">SPX Index - Last Price</text>
<text x="165" y="18.7" textLength="34.3" lengthAdjust="spacingAndGlyphs">5722.26</text>
<rect x="15" y="21.8" width="8.8" height="8.6" fill="#e0404f"/>
<text x="26.8" y="30.6" textLength="127.8" lengthAdjust="spacingAndGlyphs" xml:space="preserve">SMAVG (10)  on Close (SPX)</text>
<text x="165" y="30.6" textLength="34.3" lengthAdjust="spacingAndGlyphs">5669.77</text>
<rect x="15" y="33.7" width="8.8" height="8.6" fill="#4a6ea6"/>
<text x="26.8" y="42.5" textLength="127.8" lengthAdjust="spacingAndGlyphs" xml:space="preserve">SMAVG (50)  on Close (SPX)</text>
<text x="165" y="42.5" textLength="34.3" lengthAdjust="spacingAndGlyphs">5523.31</text>
<rect x="15" y="45.6" width="8.8" height="8.6" fill="#6a9a2e"/>
<text x="26.8" y="54.4" textLength="133.3" lengthAdjust="spacingAndGlyphs" xml:space="preserve">SMAVG (100)  on Close (SPX)</text>
<text x="165" y="54.4" textLength="34.3" lengthAdjust="spacingAndGlyphs">5455.16</text>
<rect x="15" y="57.5" width="8.8" height="8.6" fill="#2c4264"/>
<text x="26.8" y="66.3" textLength="133.3" lengthAdjust="spacingAndGlyphs" xml:space="preserve">SMAVG (200)  on Close (SPX)</text>
<text x="165" y="66.3" textLength="34.3" lengthAdjust="spacingAndGlyphs">5217.27</text>
</g>
<g font-size="10.2px" fill="#30333c">
<text x="2" y="521.2" textLength="342" lengthAdjust="spacingAndGlyphs" xml:space="preserve">SPX Index (S&amp;P 500 INDEX) ICAP Daily Report I  Daily 12SEP2023-26SEP2024</text>
<text x="545" y="521.2" textLength="179.3" lengthAdjust="spacingAndGlyphs">Copyright&#169; 2024 Bloomberg Finance L.P.</text>
<text x="925" y="521.2" textLength="96.5" lengthAdjust="spacingAndGlyphs">26-Sep-2024 07:03:12</text>
</g>
</svg></body></html>
